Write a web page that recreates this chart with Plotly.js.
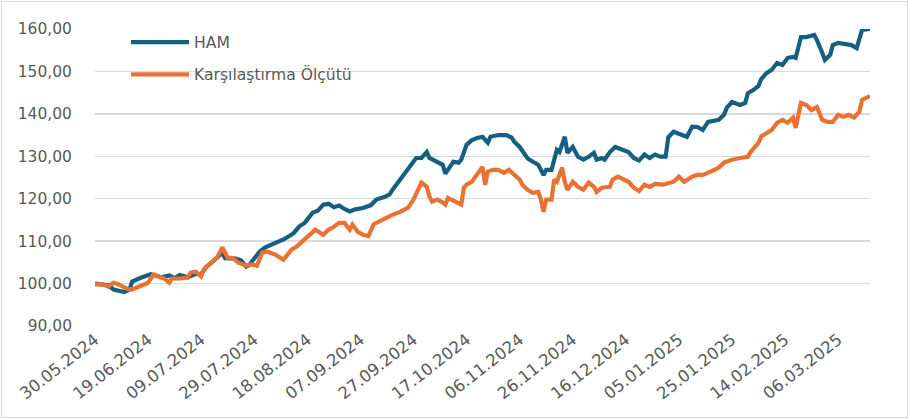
<!DOCTYPE html>
<html>
<head>
<meta charset="utf-8">
<script src="https://cdn.plot.ly/plotly-3.0.1.min.js"></script>
<style>
  html, body { margin: 0; padding: 0; background: #ffffff; }
  #wrap { position: relative; width: 909px; height: 419px; }
  #chart { width: 909px; height: 419px; }
  #frame { position: absolute; left: 1px; top: 1px; width: 905px; height: 415px; border: 1px solid #d9d9d9; pointer-events: none; }
</style>
</head>
<body>
<div id="wrap"><div id="chart"></div><div id="frame"></div></div>
<script>
// ---- Data ----
const hamName = "HAM";
const benchName = "Karşılaştırma Ölçütü";

const hamDates = [
  "2024-05-30","2024-06-02","2024-06-04","2024-06-06","2024-06-08","2024-06-10","2024-06-12","2024-06-13",
  "2024-06-16","2024-06-18","2024-06-20","2024-06-24","2024-06-27","2024-06-29","2024-07-01","2024-07-04",
  "2024-07-07","2024-07-09","2024-07-11","2024-07-13","2024-07-15","2024-07-17","2024-07-18","2024-07-22",
  "2024-07-24","2024-07-26","2024-07-27","2024-07-31","2024-08-02","2024-08-06","2024-08-09","2024-08-12",
  "2024-08-13","2024-08-15","2024-08-17","2024-08-20","2024-08-22","2024-08-24","2024-08-26","2024-08-28",
  "2024-08-30","2024-09-01","2024-09-03","2024-09-05","2024-09-08","2024-09-11","2024-09-13","2024-09-16",
  "2024-09-18","2024-09-19","2024-09-22","2024-09-24","2024-09-26","2024-09-28","2024-09-30","2024-10-02",
  "2024-10-03","2024-10-06","2024-10-08","2024-10-09","2024-10-12","2024-10-14","2024-10-15","2024-10-17",
  "2024-10-19","2024-10-21","2024-10-23","2024-10-25","2024-10-26","2024-10-29","2024-11-01","2024-11-03",
  "2024-11-04","2024-11-06","2024-11-08","2024-11-09","2024-11-11","2024-11-13","2024-11-15","2024-11-16",
  "2024-11-18","2024-11-20","2024-11-21","2024-11-23","2024-11-24","2024-11-26","2024-11-28","2024-11-30",
  "2024-12-02","2024-12-04","2024-12-05","2024-12-07","2024-12-08","2024-12-10","2024-12-12","2024-12-15",
  "2024-12-17","2024-12-19","2024-12-21","2024-12-23","2024-12-25","2024-12-27","2024-12-29","2024-12-31",
  "2025-01-01","2025-01-03","2025-01-06","2025-01-08","2025-01-09","2025-01-10","2025-01-12","2025-01-14",
  "2025-01-16","2025-01-20","2025-01-22","2025-01-23","2025-01-25","2025-01-28","2025-01-30","2025-01-31",
  "2025-02-02","2025-02-04","2025-02-05","2025-02-07","2025-02-09","2025-02-11","2025-02-13","2025-02-15",
  "2025-02-17","2025-02-18","2025-02-20","2025-02-22","2025-02-25","2025-02-26","2025-02-28","2025-03-01",
  "2025-03-03","2025-03-04","2025-03-06","2025-03-09","2025-03-11","2025-03-13","2025-03-14","2025-03-15",
  "2025-03-18"
];
const hamValues = [
  100.0, 99.8, 99.6, 98.6, 98.3, 98.0, 98.6, 100.5,
  101.3, 101.8, 102.2, 101.5, 101.9, 101.3, 102.0, 101.5,
  102.3, 102.2, 104.0, 105.0, 106.3, 107.3, 106.0, 105.9,
  105.5, 104.0, 104.3, 107.5, 108.5, 109.6, 110.4, 111.5,
  112.0, 113.5, 114.3, 116.7, 117.2, 118.6, 118.8, 118.0,
  118.4, 117.6, 117.0, 117.5, 117.8, 118.5, 119.8, 120.4,
  121.0, 122.0, 124.5, 126.0, 128.0, 129.6, 129.6, 131.0,
  129.6, 128.7, 128.0, 125.9, 128.7, 128.5, 129.2, 132.7,
  133.8, 134.3, 134.6, 133.2, 134.6, 135.0, 135.0, 134.4,
  133.4, 132.2, 130.4, 129.5, 128.7, 128.0, 125.6, 126.8,
  126.8, 131.5, 131.0, 134.6, 130.8, 132.2, 129.9, 129.2,
  129.9, 130.8, 129.2, 129.6, 129.2, 131.0, 132.2, 131.5,
  131.0, 129.6, 129.0, 130.4, 129.6, 130.4, 129.9, 129.9,
  134.5, 135.8, 135.0, 134.6, 135.8, 137.0, 136.9, 136.2,
  138.1, 138.6, 139.8, 141.4, 142.8, 142.1, 142.6, 144.9,
  145.6, 146.6, 148.2, 149.6, 150.4, 152.0, 151.5, 153.2,
  153.4, 153.2, 158.1, 158.1, 158.6, 157.4, 154.4, 152.7,
  153.9, 156.2, 156.7, 156.5, 156.2, 155.5, 157.9, 159.8,
  160.0
];

const benchDates = [
  "2024-05-30","2024-06-02","2024-06-04","2024-06-06","2024-06-08","2024-06-11","2024-06-13","2024-06-16",
  "2024-06-19","2024-06-21","2024-06-24","2024-06-25","2024-06-27","2024-06-28","2024-07-01","2024-07-04",
  "2024-07-05","2024-07-07","2024-07-09","2024-07-10","2024-07-12","2024-07-15","2024-07-17","2024-07-19",
  "2024-07-21","2024-07-23","2024-07-26","2024-07-28","2024-07-30","2024-08-01","2024-08-03","2024-08-06",
  "2024-08-09","2024-08-12","2024-08-14","2024-08-16","2024-08-19","2024-08-21","2024-08-24","2024-08-26",
  "2024-08-28","2024-08-30","2024-09-01","2024-09-03","2024-09-04","2024-09-06","2024-09-08","2024-09-10",
  "2024-09-12","2024-09-15","2024-09-17","2024-09-19","2024-09-22","2024-09-25","2024-09-27","2024-09-29",
  "2024-09-30","2024-10-02","2024-10-03","2024-10-04","2024-10-06","2024-10-08","2024-10-09","2024-10-10",
  "2024-10-13","2024-10-15","2024-10-16","2024-10-17","2024-10-19","2024-10-20","2024-10-22","2024-10-23",
  "2024-10-24","2024-10-25","2024-10-27","2024-10-29","2024-10-31","2024-11-02","2024-11-04","2024-11-06",
  "2024-11-07","2024-11-09","2024-11-11","2024-11-13","2024-11-14","2024-11-15","2024-11-16","2024-11-18",
  "2024-11-19","2024-11-20","2024-11-22","2024-11-23","2024-11-24","2024-11-26","2024-11-28","2024-11-30",
  "2024-12-02","2024-12-04","2024-12-05","2024-12-07","2024-12-10","2024-12-11","2024-12-13","2024-12-15",
  "2024-12-17","2024-12-19","2024-12-21","2024-12-23","2024-12-25","2024-12-27","2024-12-30","2025-01-03",
  "2025-01-05","2025-01-07","2025-01-10","2025-01-12","2025-01-14","2025-01-17","2025-01-20","2025-01-22",
  "2025-01-25","2025-01-28","2025-01-31","2025-02-01","2025-02-04","2025-02-05","2025-02-07","2025-02-09",
  "2025-02-11","2025-02-13","2025-02-15","2025-02-17","2025-02-18","2025-02-20","2025-02-22","2025-02-24",
  "2025-02-26","2025-02-28","2025-03-02","2025-03-04","2025-03-06","2025-03-08","2025-03-10","2025-03-12",
  "2025-03-14","2025-03-15","2025-03-18"
];
const benchValues = [
  99.8, 99.8, 99.3, 100.2, 99.8, 98.8, 98.6, 99.3,
  100.2, 102.1, 101.4, 101.2, 100.2, 101.2, 101.2, 101.4,
  102.6, 102.8, 101.7, 103.3, 104.5, 106.1, 108.5, 106.1,
  106.0, 104.9, 104.2, 104.5, 104.2, 107.3, 107.5, 106.8,
  105.6, 108.0, 108.7, 109.9, 111.5, 112.7, 111.5, 112.7,
  113.4, 114.3, 114.3, 112.7, 113.9, 112.2, 111.5, 111.2,
  114.0, 115.0, 115.6, 116.2, 116.9, 117.9, 119.8, 122.6,
  123.8, 122.8, 120.5, 119.3, 119.8, 119.1, 118.6, 120.2,
  119.3, 118.6, 122.6, 123.3, 124.0, 124.9, 126.4, 127.5,
  123.3, 126.4, 126.8, 126.8, 126.1, 126.8, 125.6, 124.5,
  123.3, 122.1, 121.4, 121.6, 119.8, 116.9, 119.8, 119.8,
  124.5, 124.0, 127.3, 124.0, 122.1, 124.0, 122.8, 122.1,
  123.8, 122.8, 121.6, 122.6, 122.8, 124.5, 125.2, 124.5,
  124.0, 122.6, 121.8, 123.3, 122.8, 123.5, 123.3, 124.0,
  125.2, 124.0, 125.2, 125.6, 125.6, 126.4, 127.3, 128.5,
  129.2, 129.6, 129.9, 131.0, 133.2, 134.7, 135.5, 136.2,
  137.9, 138.6, 137.9, 139.1, 136.7, 142.6, 142.1, 140.9,
  141.6, 138.6, 138.1, 138.1, 139.8, 139.3, 139.8, 139.1,
  140.5, 143.3, 144.2
];

const xTickVals = [
  "2024-05-30","2024-06-19","2024-07-09","2024-07-29","2024-08-18","2024-09-07","2024-09-27","2024-10-17",
  "2024-11-06","2024-11-26","2024-12-16","2025-01-05","2025-01-25","2025-02-14","2025-03-06"
];
const xTickText = [
  "30.05.2024","19.06.2024","09.07.2024","29.07.2024","18.08.2024","07.09.2024","27.09.2024","17.10.2024",
  "06.11.2024","26.11.2024","16.12.2024","05.01.2025","25.01.2025","14.02.2025","06.03.2025"
];
const xStart = "2024-05-30";
const xEnd = "2025-03-18";

// ---- Chart ----
const fontFam = "DejaVu Sans, Verdana, sans-serif";
const textColor = "#595959";

const traces = [
  {
    x: hamDates, y: hamValues, name: hamName, type: "scatter", mode: "lines",
    legendgroup: "a",
    line: { color: "#156082", width: 4.2, shape: "linear" },
    hoverinfo: "skip"
  },
  {
    x: benchDates, y: benchValues, name: benchName, type: "scatter", mode: "lines",
    legendgroup: "b",
    line: { color: "#E97132", width: 4.2, shape: "linear" },
    hoverinfo: "skip"
  }
];

const layout = {
  width: 909, height: 419,
  margin: { l: 95, r: 39, t: 29, b: 93, pad: 0 },
  paper_bgcolor: "#ffffff", plot_bgcolor: "#ffffff",
  separators: ",.",
  font: { family: fontFam, color: textColor, size: 15 },
  showlegend: true,
  legend: {
    x: 0.040, y: 1.012, xanchor: "left", yanchor: "top",
    bgcolor: "rgba(0,0,0,0)", borderwidth: 0,
    font: { family: fontFam, size: 15.6, color: textColor },
    itemwidth: 58, tracegroupgap: 9, traceorder: "grouped"
  },
  xaxis: {
    type: "date", range: [xStart, xEnd],
    tickmode: "array", tickvals: xTickVals, ticktext: xTickText,
    tickangle: -38, showgrid: false, zeroline: false, showline: false,
    ticks: "", tickfont: { family: fontFam, size: 16.5, color: textColor },
    fixedrange: true
  },
  yaxis: {
    range: [90, 160], dtick: 10, tick0: 90, tickformat: ".2f",
    showgrid: true, gridcolor: "#d9d9d9", gridwidth: 1.3,
    zeroline: false, showline: false, ticks: "",
    ticklabelstandoff: 22,
    tickfont: { family: fontFam, size: 15.5, color: textColor },
    fixedrange: true
  }
};

Plotly.newPlot("chart", traces, layout, { displayModeBar: false, staticPlot: true });
</script>
</body>
</html>
